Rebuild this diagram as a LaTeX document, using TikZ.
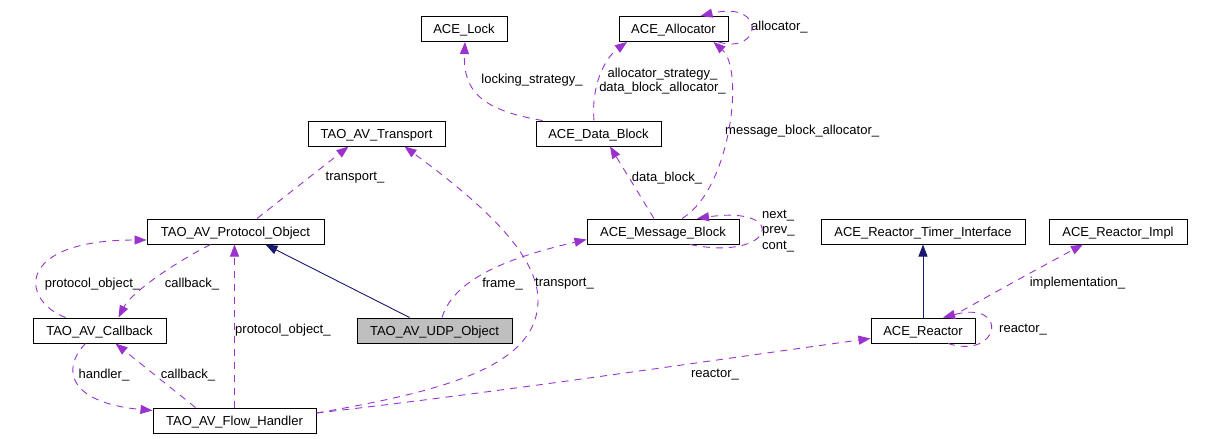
\documentclass[tikz,border=0pt]{standalone}
\usepackage{fontspec}
\setmainfont{Liberation Sans}
\usetikzlibrary{arrows.meta}
\definecolor{refpurple}{HTML}{9A32CD}
\definecolor{inhblue}{HTML}{191970}
\definecolor{udpgray}{HTML}{BFBFBF}
\tikzset{
  cls/.style={draw, line width=1pt, minimum height=25pt, inner sep=0pt, text height=9.5pt, text depth=0pt, font=\fontsize{13}{15}\selectfont},
  lbl/.style={inner sep=0pt, align=center, font=\fontsize{13}{14.5}\selectfont},
  ref/.style={refpurple, line width=0.9pt, dash pattern=on 7pt off 6pt, -{Triangle[length=12pt,width=9pt]}},
  inh/.style={inhblue, line width=0.9pt, -{Triangle[length=12pt,width=9pt]}}
}
\begin{document}
\begin{tikzpicture}[x=1pt, y=-1pt]
\useasboundingbox (0,0) rectangle (1221,439);
% classes
\node[cls, minimum width=86pt] (lock) at (464,29) {ACE\_Lock};
\node[cls, minimum width=109pt] (alloc) at (673.5,29) {ACE\_Allocator};
\node[cls, minimum width=137pt] (transport) at (376.5,133.5) {TAO\_AV\_Transport};
\node[cls, minimum width=125pt] (datablock) at (598.5,133.5) {ACE\_Data\_Block};
\node[cls, minimum width=177pt] (protocol) at (235.5,231.5) {TAO\_AV\_Protocol\_Object};
\node[cls, minimum width=152pt] (msgblock) at (663,231.5) {ACE\_Message\_Block};
\node[cls, minimum width=204pt] (timer) at (923,231.5) {ACE\_Reactor\_Timer\_Interface};
\node[cls, minimum width=138pt] (impl) at (1118,231.5) {ACE\_Reactor\_Impl};
\node[cls, minimum width=133pt] (callback) at (99.5,330.5) {TAO\_AV\_Callback};
\node[cls, minimum width=155pt, fill=udpgray] (udp) at (434.5,330.5) {TAO\_AV\_UDP\_Object};
\node[cls, minimum width=104pt] (reactor) at (923,330.5) {ACE\_Reactor};
\node[cls, minimum width=163pt] (flow) at (234.5,420.5) {TAO\_AV\_Flow\_Handler};
% labels
\node[lbl] (lockl) at (532,80) {locking\_strategy\_};
\node[lbl] (allocl) at (662.5,81) {allocator\_strategy\_\\data\_block\_allocator\_};
\node[lbl, anchor=west] (msgallocl) at (725,131) {message\_block\_allocator\_};
\node[lbl, anchor=west] (selfallocl) at (751,27) {allocator\_};
\node[lbl] (datal) at (667,178) {data\_block\_};
\node[lbl, align=left, anchor=west, font=\fontsize{13}{15.5}\selectfont] (linkl) at (762,231) {next\_\\prev\_\\cont\_};
\node[lbl] (transl) at (355,178) {transport\_};
\node[lbl, anchor=west] (flowtransl) at (535,284) {transport\_};
\node[lbl] (framel) at (502.5,284) {frame\_};
\node[lbl] (protol) at (92.5,284) {protocol\_object\_};
\node[lbl] (cbl) at (192,284) {callback\_};
\node[lbl, anchor=west] (flowprotol) at (235,330) {protocol\_object\_};
\node[lbl] (handl) at (104,375) {handler\_};
\node[lbl] (flowcbl) at (188,375) {callback\_};
\node[lbl] (reactl) at (715,375) {reactor\_};
\node[lbl, anchor=west] (selfreactl) at (999,330) {reactor\_};
\node[lbl] (impll) at (1077.5,283) {implementation\_};
% usage
\draw[ref] ([xshift=-56pt]datablock.north) .. controls (480,110) and (463,90) .. ([xshift=1pt]lock.south);
\draw[ref] ([xshift=-4.5pt]datablock.north) .. controls (591,85) and (605,58) .. ([xshift=-46.5pt]alloc.south);
\draw[ref] ([xshift=19pt]msgblock.north) .. controls (730,190) and (745,70) .. ([xshift=40pt]alloc.south);
\draw[ref] ([xshift=45pt]alloc.south) .. controls (762,55) and (767,0) .. ([xshift=27pt]alloc.north);
\draw[ref] ([xshift=-9pt]msgblock.north) -- ([xshift=11.5pt]datablock.south);
\draw[ref] ([xshift=27pt]msgblock.south) .. controls (775,262) and (790,205) .. ([xshift=34pt]msgblock.north);
\draw[ref] ([xshift=21.5pt]protocol.north) -- ([xshift=-28pt]transport.south);
\draw[ref] ([yshift=7.5pt]flow.east) .. controls (450,390) and (538,365) .. (538,300)
  .. controls (538,250) and (470,195) .. ([xshift=28pt]transport.south);
\draw[ref] ([xshift=-34pt]callback.north) .. controls (20,300) and (15,240) .. ([yshift=-8.5pt]protocol.west);
\draw[ref] ([xshift=-25pt]protocol.south) .. controls (165,268) and (130,295) .. ([xshift=19pt]callback.north);
\draw[ref] ([xshift=-14pt]callback.south) .. controls (60,370) and (70,403) .. ([yshift=10pt]flow.west);
\draw[ref] ([xshift=-39pt]flow.north) -- ([xshift=16pt]callback.south);
\draw[ref] (flow.north) -- (flow.north |- protocol.south);
\draw[ref] ([xshift=7.5pt]udp.north) .. controls (455,275) and (520,255) .. ([yshift=-8pt]msgblock.west);
\draw[ref] ([yshift=7.5pt]flow.east) .. controls (500,392) and (700,362) .. ([yshift=-8pt]reactor.west);
\draw[ref] ([xshift=27pt]reactor.north) .. controls (990,295) and (1050,262) .. ([xshift=-35pt]impl.south);
\draw[ref] ([xshift=25pt]reactor.south) .. controls (1000,360) and (1010,300) .. ([xshift=20pt]reactor.north);
% inheritance
\draw[inh] ([xshift=-25pt]udp.north) -- ([xshift=30pt]protocol.south);
\draw[inh] (reactor.north) -- (timer.south);
\end{tikzpicture}
\end{document}
